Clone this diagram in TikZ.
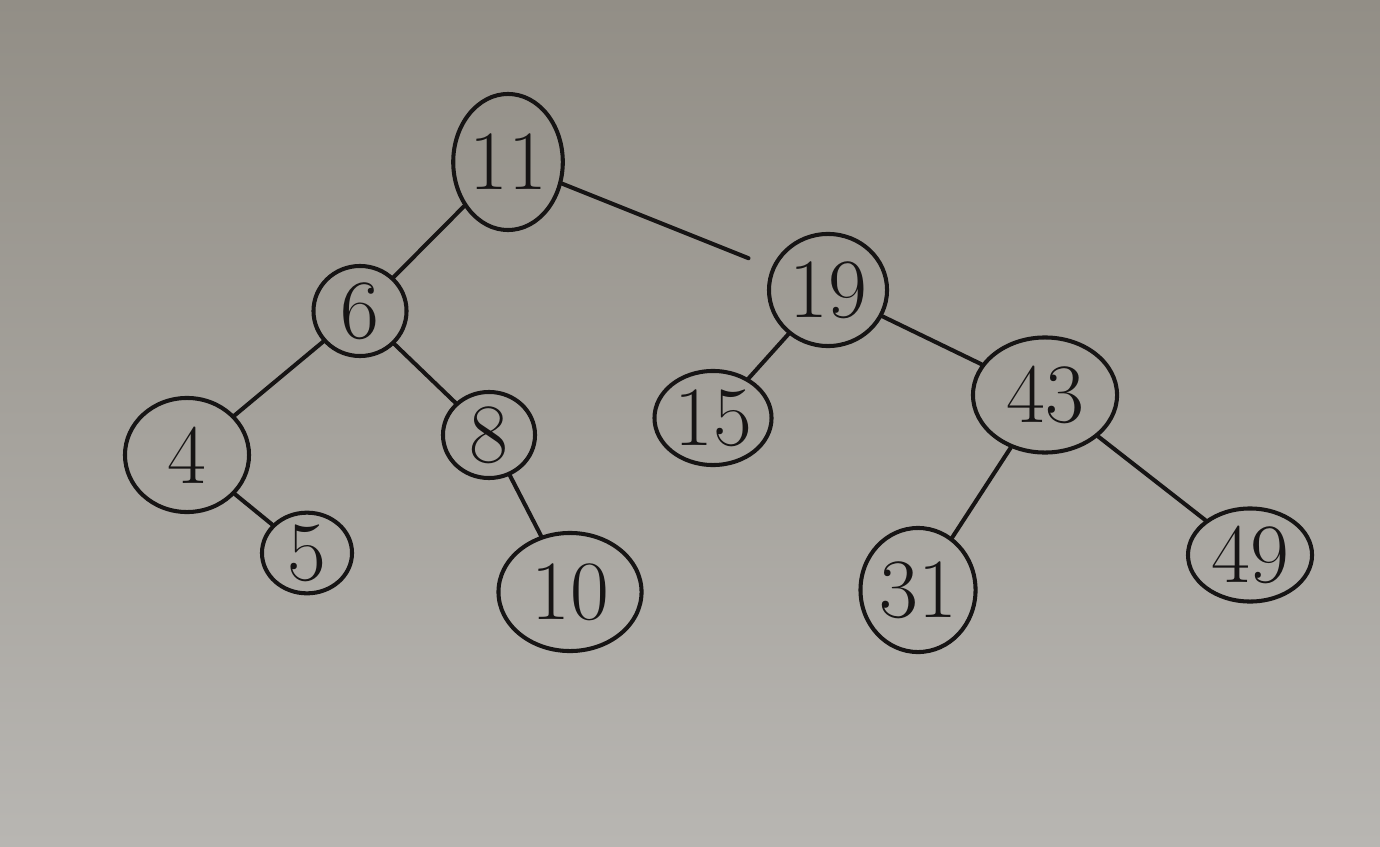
\documentclass[tikz,border=0pt]{standalone}
\usepackage{tikz}
\usetikzlibrary{shapes.geometric}
\definecolor{boarddark}{RGB}{146,142,134}
\definecolor{boardlight}{RGB}{184,182,178}
\definecolor{ink}{RGB}{22,20,20}
\begin{document}
\begin{tikzpicture}[x=0.01cm,y=-0.01cm,
  key/.style={ellipse,draw=ink,line width=1.15pt,inner sep=0pt,
    font=\fontsize{24}{26}\selectfont,text=ink},
  link/.style={draw=ink,line width=1.15pt,line cap=round}]
  % whiteboard surface
  \shade[shading angle=210,top color=boarddark,bottom color=boardlight]
    (0,0) rectangle (1380,846);
  \useasboundingbox (0,0) rectangle (1380,846);

  % keys
  \node[key,minimum width=0.97cm,minimum height=1.36cm] (n11) at (508,162) {11};
  \node[key,minimum width=0.93cm,minimum height=0.90cm] (n6) at (360,311) {6};
  \node[key,minimum width=1.18cm,minimum height=1.12cm] (n19) at (828,290) {19};
  \node[key,minimum width=1.24cm,minimum height=1.14cm] (n4) at (187,455) {4};
  \node[key,minimum width=0.92cm,minimum height=0.86cm] (n8) at (489,435) {8};
  \node[key,minimum width=1.17cm,minimum height=0.94cm] (n15) at (713,418) {15};
  \node[key,minimum width=1.44cm,minimum height=1.15cm] (n43) at (1045,395) {43};
  \node[key,minimum width=0.90cm,minimum height=0.67cm] (n5) at (307,553) {5};
  \node[key,minimum width=1.43cm,minimum height=1.18cm] (n10) at (570,592) {10};
  \node[key,minimum width=1.15cm,minimum height=1.24cm] (n31) at (918,590) {31};
  \node[key,minimum width=1.24cm,minimum height=0.93cm] (n49) at (1250,555) {49};

  % tree links
  \draw[link] (n11) -- (n6);
  \draw[link,shorten >=0.25cm] (n11) -- (n19);
  \draw[link] (n6) -- (n4);
  \draw[link] (n6) -- (n8);
  \draw[link] (n19) -- (n15);
  \draw[link] (n19) -- (n43);
  \draw[link] (n4) -- (n5);
  \draw[link] (n8) -- (n10);
  \draw[link] (n43) -- (n31);
  \draw[link] (n43) -- (n49);
\end{tikzpicture}
\end{document}
